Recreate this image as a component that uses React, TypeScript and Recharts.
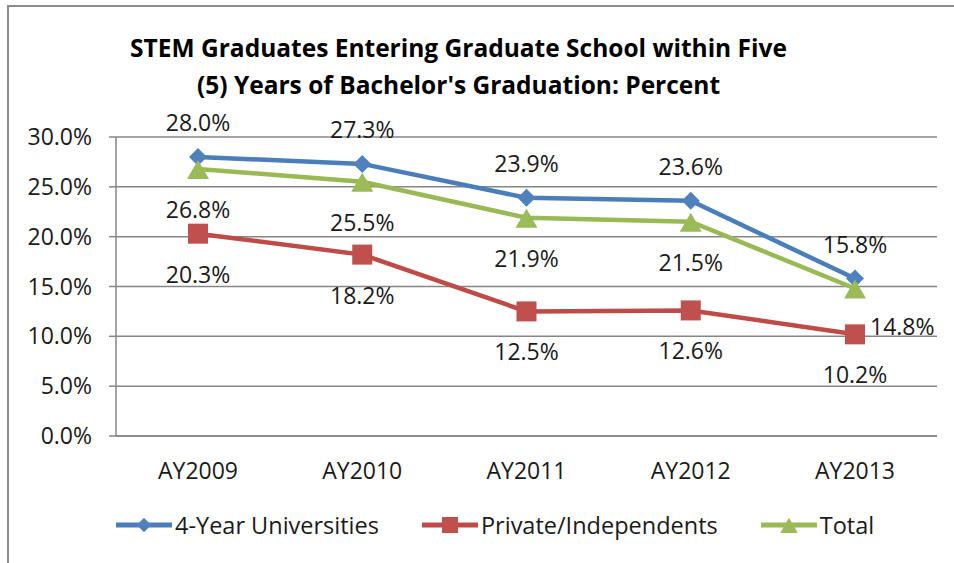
import { LineChart, Line, XAxis, YAxis, CartesianGrid, Legend, LabelList } from "recharts";

const YEARS = ["AY2009", "AY2010", "AY2011", "AY2012", "AY2013"];
const FOUR_YEAR = [28.0, 27.3, 23.9, 23.6, 15.8];
const PRIVATE = [20.3, 18.2, 12.5, 12.6, 10.2];
const TOTAL = [26.8, 25.5, 21.9, 21.5, 14.8];
const Y_TICKS = [0, 5, 10, 15, 20, 25, 30];
const FRAME_TICKS = [0, 1, 2, 3, 4, 5];

const FONT = "'Open Sans', sans-serif";
const GRID = "#868686";
const TEXT = "#1a1a1a";

const data = YEARS.map((year, i) => ({
  year,
  fourYear: FOUR_YEAR[i],
  priv: PRIVATE[i],
  total: TOTAL[i],
}));

type Shape = "diamond" | "square" | "triangle";

const SERIES: { key: string; name: string; line: string; fill: string; shape: Shape }[] = [
  { key: "fourYear", name: "4-Year Universities", line: "#4A7EBB", fill: "#4F81BD", shape: "diamond" },
  { key: "priv", name: "Private/Independents", line: "#BE4B48", fill: "#C0504D", shape: "square" },
  { key: "total", name: "Total", line: "#98B954", fill: "#9BBB59", shape: "triangle" },
];

function Marker({ cx, cy, shape, fill, s = 1 }: { cx: number; cy: number; shape: Shape; fill: string; s?: number }) {
  if (shape === "diamond") {
    const r = 9 * s;
    return <polygon points={`${cx},${cy - r} ${cx + r},${cy} ${cx},${cy + r} ${cx - r},${cy}`} fill={fill} />;
  }
  if (shape === "square") {
    const r = 10 * s;
    return <rect x={cx - r} y={cy - r} width={2 * r} height={2 * r} fill={fill} />;
  }
  const w = 11 * s;
  return <polygon points={`${cx},${cy - 9 * s} ${cx + w},${cy + 10 * s} ${cx - w},${cy + 10 * s}`} fill={fill} />;
}

const makeDot = (shape: Shape, fill: string) => (props: any) => {
  const { cx, cy, index } = props;
  if (cx == null || cy == null) return <g key={index} />;
  return <Marker key={index} cx={cx} cy={cy} shape={shape} fill={fill} />;
};

const makeLabel = (key: string) => (props: any) => {
  const { x, y, value, index } = props;
  let dx = 0;
  let dy = key === "fourYear" ? -35 : 40;
  let anchor: "middle" | "start" = "middle";
  // last total label sits to the right of its marker
  if (key === "total" && index === TOTAL.length - 1) {
    dx = 15;
    dy = 38;
    anchor = "start";
  }
  return (
    <text
      x={x + dx}
      y={y + dy}
      textAnchor={anchor}
      dominantBaseline="central"
      fontFamily={FONT}
      fontSize={23}
      fill={TEXT}
    >
      {`${Number(value).toFixed(1)}%`}
    </text>
  );
};

function LegendContent() {
  return (
    <div style={{ display: "flex", alignItems: "center", paddingLeft: 116, fontFamily: FONT, fontSize: 23.5, color: TEXT }}>
      {SERIES.map((s) => (
        <div key={s.key} style={{ display: "flex", alignItems: "center", marginRight: 43 }}>
          <svg width={56} height={24} style={{ marginRight: 3 }}>
            <line x1={0} y1={12} x2={56} y2={12} stroke={s.line} strokeWidth={5} />
            <Marker cx={28} cy={12} shape={s.shape} fill={s.fill} s={0.8} />
          </svg>
          <span>{s.name}</span>
        </div>
      ))}
    </div>
  );
}

export default function App() {
  return (
    <div style={{ position: "absolute", left: 0, top: 0, width: 954, height: 563, overflow: "hidden", background: "#fff" }}>
      <div
        style={{
          position: "absolute",
          left: 7,
          top: 5,
          width: 947,
          height: 558,
          borderLeft: "2px solid #8c8c8c",
          borderTop: "2px solid #8c8c8c",
        }}
      />
      <div
        style={{
          position: "absolute",
          left: 0,
          top: 29,
          width: 917,
          textAlign: "center",
          fontFamily: FONT,
          fontWeight: 700,
          fontSize: 24.5,
          lineHeight: "37px",
          color: "#000",
        }}
      >
        <div>STEM Graduates Entering Graduate School within Five</div>
        <div>(5) Years of Bachelor's Graduation: Percent</div>
      </div>
      <LineChart width={954} height={563} data={data} margin={{ top: 137, right: 17, bottom: 14, left: 16 }}>
        <CartesianGrid vertical={false} xAxisId="cat" stroke={GRID} strokeWidth={1.5} />
        <XAxis
          xAxisId={0}
          type="number"
          domain={[0, 5]}
          ticks={FRAME_TICKS}
          allowDataOverflow
          tick={false}
          tickSize={7}
          height={1}
          stroke={GRID}
          strokeWidth={1.5}
        />
        <XAxis
          xAxisId="cat"
          dataKey="year"
          padding={{ left: 82, right: 82 }}
          axisLine={false}
          tickLine={false}
          tickSize={0}
          tickMargin={26}
          height={72}
          interval={0}
          tick={{ fontFamily: FONT, fontSize: 23, fill: TEXT }}
        />
        <YAxis
          width={100}
          domain={[0, 30]}
          ticks={Y_TICKS}
          tickFormatter={(v: number) => `${v.toFixed(1)}%`}
          tickSize={7}
          tickMargin={17}
          stroke={GRID}
          strokeWidth={1.5}
          tick={{ fontFamily: FONT, fontSize: 23, fill: TEXT }}
        />
        <Legend verticalAlign="bottom" height={40} wrapperStyle={{ left: 0, width: 954 }} content={<LegendContent />} />
        {SERIES.map((s) => (
          <Line
            key={s.key}
            xAxisId="cat"
            dataKey={s.key}
            name={s.name}
            stroke={s.line}
            strokeWidth={4.5}
            dot={makeDot(s.shape, s.fill)}
            activeDot={false}
            isAnimationActive={false}
          >
            <LabelList dataKey={s.key} content={makeLabel(s.key)} />
          </Line>
        ))}
      </LineChart>
    </div>
  );
}
